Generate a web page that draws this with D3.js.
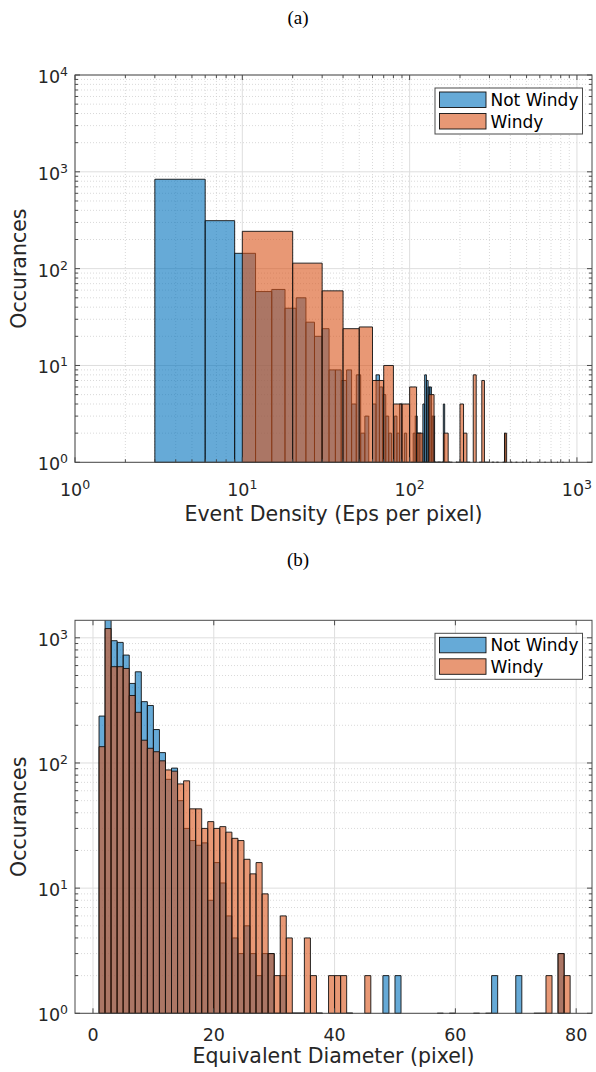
<!DOCTYPE html>
<html><head><meta charset="utf-8">
<script src="https://cdn.jsdelivr.net/npm/d3@7"></script>
<style>body{margin:0;background:#fff}</style>
</head><body>
<svg id="c" width="596" height="1072"></svg>
<script>
// ---------------- DATA ----------------
const seriesNames = ["Not Windy", "Windy"];

// Panel (a): Event Density histogram (bin start, bin width, counts per bin)
const densityNotWindyStart = 3, densityNotWindyWidth = 3;
const densityNotWindyCounts = [
  838,313,144,58,61,39,50,28,20,24, 9,9,7,9,4,8,2,3,1,4,
  8,6,5,3,2,1,3,2,4,1, 2,1,0,1,2,3,2,2,1,4,
  8,7,6,6,3,3,1,0,1,1, 0,1,4,1,1,0,1,0,0,0,
  0,0,1,0,0,0,0,1,0,0, 0,0,0,0,0,0,0,0,0,0,
  0,0,0,0,0,0,0,0,0,0, 0,0,0,0,0,0,0,0,0,0,
  0,0,0,0,0,0,0,0,0,0, 0,0,0,0,0,0,0,0,0,0,
  0,0,2
];
const densityWindyStart = 10, densityWindyWidth = 10;
const densityWindyCounts = [
  243,114,59,24,25,7,10,4,4,6, 2,1,5,1,1,2,1,0,1,4,
  2,1,0,8,0,1,7,1,1,0,1,0,1,0, 0,1,2,0,0,1,0,0,1,0,
  0,0,1,0,0,0,0,1,0,0,0,0,0,1,0,0,0,0,0,1,
  0,0,0,0,0,1,0,0,0,0,0,1,0,0,0,0,0,1
];
const densityXTicks = [1, 10, 100, 1000];
const densityYTicks = [1, 10, 100, 1000, 10000];

// Panel (b): Equivalent Diameter histogram (bins of width 1 starting at 1)
const diameterStart = 1, diameterWidth = 1;
const diameterNotWindyCounts = [
  237,1450,948,919,728,432,535,309,288,185,
  121,74,91,50,30,24,22,23,8,16,
  11,6,4,3,5,3,2,3,3,1,
  2,1,1,1,0,0,1,0,0,0,
  0,1,0,0,0,0,0,2,0,2,
  0,0,0,0,0,0,1,0,1,0,
  0,0,1,0,1,2,0,0,0,2,
  0,0,1,1,0,0,3,0,0
];
const diameterWindyCounts = [
  135,1186,588,588,569,346,254,152,131,123,
  104,88,86,68,72,43,43,30,34,30,
  31,28,25,24,17,13,16,9,3,2,
  6,4,1,1,4,2,1,0,2,2,
  2,1,0,0,2,0,0,0,0,0,
  0,0,0,0,0,0,0,0,0,0,
  0,0,0,0,0,0,0,0,0,0,
  0,0,0,0,2,0,3,2,0
];
const diameterXTicks = [0, 20, 40, 60, 80];
const diameterYTicks = [1, 10, 100, 1000];

// ---------------- STYLE ----------------
const FONT = "DejaVu Sans";
const TXT = "#262626";
const COLORS = ["#0072BD", "#D95319"];
const ALPHA = 0.6;

const svg = d3.select("#c");

function minorLog(lo, hi) {
  const out = [];
  for (let e = Math.floor(Math.log10(lo)); e <= Math.ceil(Math.log10(hi)); e++) {
    for (let m = 2; m <= 9; m++) {
      const v = m * Math.pow(10, e);
      if (v > lo && v < hi) out.push(v);
    }
  }
  return out;
}

function logLabel(sel, v) {
  const e = Math.round(Math.log10(v));
  sel.append("tspan").text("10");
  sel.append("tspan").attr("dy", -7).attr("font-size", 12.5).text(e);
}

function panel(cfg) {
  const {x0, x1, y0, y1} = cfg.box;
  const g = svg.append("g");
  const xs = cfg.xScale.range([x0, x1]);
  const ys = cfg.yScale.range([y1, y0]);
  const clipId = "clip" + cfg.id;
  g.append("clipPath").attr("id", clipId).append("rect")
    .attr("x", x0).attr("y", y0).attr("width", x1 - x0).attr("height", y1 - y0 + 1);

  // grid
  const grid = g.append("g");
  if (cfg.xMinor) {
    grid.selectAll(".xmg").data(cfg.xMinor).join("line")
      .attr("x1", d => xs(d)).attr("x2", d => xs(d)).attr("y1", y0).attr("y2", y1)
      .attr("stroke", "#c8c8c8").attr("stroke-width", 0.7).attr("stroke-dasharray", "1,2");
  }
  grid.selectAll(".ymg").data(cfg.yMinor).join("line")
    .attr("y1", d => ys(d)).attr("y2", d => ys(d)).attr("x1", x0).attr("x2", x1)
    .attr("stroke", "#c8c8c8").attr("stroke-width", 0.7).attr("stroke-dasharray", "1,2");
  grid.selectAll(".xg").data(cfg.xTicks).join("line")
    .attr("x1", d => xs(d)).attr("x2", d => xs(d)).attr("y1", y0).attr("y2", y1)
    .attr("stroke", "#dedede").attr("stroke-width", 1);
  grid.selectAll(".yg").data(cfg.yTicks).join("line")
    .attr("y1", d => ys(d)).attr("y2", d => ys(d)).attr("x1", x0).attr("x2", x1)
    .attr("stroke", "#dedede").attr("stroke-width", 1);

  // bars
  const bars = g.append("g").attr("clip-path", `url(#${clipId})`);
  cfg.series.forEach((s, si) => {
    const data = s.counts.map((c, i) => ({a: s.start + i * s.width, b: s.start + (i + 1) * s.width, c}))
      .filter(d => d.c > 0);
    bars.append("g").selectAll("path").data(data).join("path")
      .attr("d", d => {
        const xa = xs(d.a), xb = xs(d.b), yt = ys(d.c), yb = y1;
        return `M${xa},${yb}V${yt}H${xb}V${yb}Z`;
      })
      .attr("fill", COLORS[si]).attr("fill-opacity", ALPHA)
      .attr("stroke", "#111").attr("stroke-width", 0.9);
  });

  // axes box
  g.append("rect").attr("x", x0).attr("y", y0).attr("width", x1 - x0).attr("height", y1 - y0)
    .attr("fill", "none").attr("stroke", "#4a4a4a").attr("stroke-width", 1);

  // ticks (inward, all sides)
  const tk = g.append("g").attr("stroke", "#4a4a4a").attr("stroke-width", 1);
  const tickSet = (vals, len, axis) => {
    vals.forEach(v => {
      if (axis === "x") {
        const X = xs(v);
        tk.append("line").attr("x1", X).attr("x2", X).attr("y1", y1).attr("y2", y1 - len);
        tk.append("line").attr("x1", X).attr("x2", X).attr("y1", y0).attr("y2", y0 + len);
      } else {
        const Y = ys(v);
        tk.append("line").attr("y1", Y).attr("y2", Y).attr("x1", x0).attr("x2", x0 + len);
        tk.append("line").attr("y1", Y).attr("y2", Y).attr("x1", x1).attr("x2", x1 - len);
      }
    });
  };
  tickSet(cfg.xTicks, 5, "x");
  if (cfg.xMinor) tickSet(cfg.xMinor, 3, "x");
  tickSet(cfg.yTicks, 5, "y");
  tickSet(cfg.yMinor, 3, "y");

  // tick labels
  const xl = g.append("g").attr("font-family", FONT).attr("font-size", 17.5).attr("fill", TXT)
    .attr("text-anchor", "middle");
  cfg.xTicks.forEach(v => {
    const t = xl.append("text").attr("x", xs(v)).attr("y", y1 + cfg.xLabelOffset);
    if (cfg.xLog) logLabel(t, v); else t.text(v);
  });
  const yl = g.append("g").attr("font-family", FONT).attr("font-size", 17.5).attr("fill", TXT)
    .attr("text-anchor", "end");
  cfg.yTicks.forEach(v => {
    const t = yl.append("text").attr("x", x0 - 7).attr("y", ys(v) + 8);
    logLabel(t, v);
  });

  // axis titles
  g.append("text").attr("x", (x0 + x1) / 2).attr("y", cfg.xTitleY)
    .attr("text-anchor", "middle").attr("font-family", FONT).attr("font-size", 20.5)
    .attr("fill", TXT).text(cfg.xTitle);
  g.append("text").attr("transform", `translate(25.5,${(y0 + y1) / 2}) rotate(-90)`)
    .attr("text-anchor", "middle").attr("font-family", FONT).attr("font-size", 20.5)
    .attr("fill", TXT).text("Occurances");

  // panel title
  svg.append("text").attr("x", 298).attr("y", cfg.titleY).attr("text-anchor", "middle")
    .attr("font-family", "'Liberation Serif', 'Times New Roman', serif").attr("font-size", 19)
    .attr("fill", "#000").text(cfg.title);

  // legend
  const lx = 435, ly = y0 + 13;
  const lg = g.append("g");
  lg.append("rect").attr("x", lx).attr("y", ly).attr("width", 147.5).attr("height", 46)
    .attr("fill", "#fff").attr("stroke", "#4a4a4a").attr("stroke-width", 1);
  seriesNames.forEach((n, i) => {
    const ry = ly + 4 + i * 21.5;
    lg.append("rect").attr("x", lx + 4.5).attr("y", ry).attr("width", 46.5).attr("height", 15.5)
      .attr("fill", COLORS[i]).attr("fill-opacity", ALPHA)
      .attr("stroke", "#111").attr("stroke-width", 0.9);
    lg.append("text").attr("x", lx + 55.5).attr("y", ry + 14).attr("font-family", FONT)
      .attr("font-size", 17).attr("fill", "#000").text(n);
  });
}

// ---- Panel (a) ----
panel({
  id: "a",
  title: "(a)", titleY: 24,
  box: {x0: 75, x1: 592, y0: 75, y1: 462.3},
  xScale: d3.scaleLog().domain([1, Math.pow(10, 3.09)]),
  yScale: d3.scaleLog().domain([1, 10000]),
  xLog: true,
  xTicks: densityXTicks,
  xMinor: minorLog(1, Math.pow(10, 3.09)),
  yTicks: densityYTicks,
  yMinor: minorLog(1, 10000),
  xLabelOffset: 34,
  xTitle: "Event Density (Eps per pixel)", xTitleY: 521,
  series: [
    {start: densityNotWindyStart, width: densityNotWindyWidth, counts: densityNotWindyCounts},
    {start: densityWindyStart, width: densityWindyWidth, counts: densityWindyCounts}
  ]
});

// ---- Panel (b) ----
panel({
  id: "b",
  title: "(b)", titleY: 566,
  box: {x0: 75, x1: 592, y0: 620.3, y1: 1013.3},
  xScale: d3.scaleLinear().domain([-2.98, 82.62]),
  yScale: d3.scaleLog().domain([1, 1380]),
  xLog: false,
  xTicks: diameterXTicks,
  xMinor: null,
  yTicks: diameterYTicks,
  yMinor: minorLog(1, 1380),
  xLabelOffset: 28,
  xTitle: "Equivalent Diameter (pixel)", xTitleY: 1063,
  series: [
    {start: diameterStart, width: diameterWidth, counts: diameterNotWindyCounts},
    {start: diameterStart, width: diameterWidth, counts: diameterWindyCounts}
  ]
});
</script>
</body></html>
